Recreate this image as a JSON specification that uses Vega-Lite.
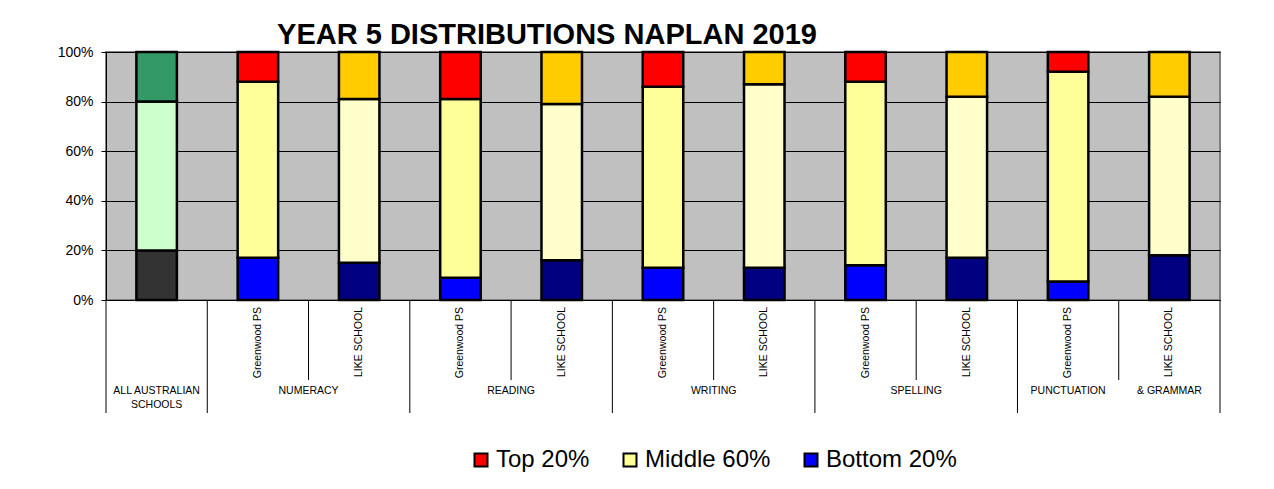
{
  "$schema": "https://vega.github.io/schema/vega-lite/v6.json",
  "background": "white",
  "padding": {"left": 55, "top": 21, "right": 5, "bottom": 5},
  "spacing": 0,
  "bounds": "flush",
  "title": {
    "text": "YEAR 5 DISTRIBUTIONS NAPLAN 2019",
    "font": "Liberation Sans",
    "fontSize": 29,
    "fontWeight": "bold",
    "color": "#000000",
    "anchor": "middle",
    "offset": -6,
    "dx": -91
  },
  "config": {
    "font": "Liberation Sans",
    "concat": {"spacing": 0}
  },
  "datasets": {
    "bars": [
      {"slot": 1, "group": "ALL AUSTRALIAN SCHOOLS", "school": "", "segment": "Bottom", "key": "Bottom A", "order": 1, "value": 20},
      {"slot": 1, "group": "ALL AUSTRALIAN SCHOOLS", "school": "", "segment": "Middle", "key": "Middle A", "order": 2, "value": 60},
      {"slot": 1, "group": "ALL AUSTRALIAN SCHOOLS", "school": "", "segment": "Top", "key": "Top A", "order": 3, "value": 20},
      {"slot": 2, "group": "NUMERACY", "school": "Greenwood PS", "segment": "Bottom", "key": "Bottom 20%", "order": 1, "value": 17},
      {"slot": 2, "group": "NUMERACY", "school": "Greenwood PS", "segment": "Middle", "key": "Middle 60%", "order": 2, "value": 71},
      {"slot": 2, "group": "NUMERACY", "school": "Greenwood PS", "segment": "Top", "key": "Top 20%", "order": 3, "value": 12},
      {"slot": 3, "group": "NUMERACY", "school": "LIKE SCHOOL", "segment": "Bottom", "key": "Bottom L", "order": 1, "value": 15},
      {"slot": 3, "group": "NUMERACY", "school": "LIKE SCHOOL", "segment": "Middle", "key": "Middle L", "order": 2, "value": 66},
      {"slot": 3, "group": "NUMERACY", "school": "LIKE SCHOOL", "segment": "Top", "key": "Top L", "order": 3, "value": 19},
      {"slot": 4, "group": "READING", "school": "Greenwood PS", "segment": "Bottom", "key": "Bottom 20%", "order": 1, "value": 9},
      {"slot": 4, "group": "READING", "school": "Greenwood PS", "segment": "Middle", "key": "Middle 60%", "order": 2, "value": 72},
      {"slot": 4, "group": "READING", "school": "Greenwood PS", "segment": "Top", "key": "Top 20%", "order": 3, "value": 19},
      {"slot": 5, "group": "READING", "school": "LIKE SCHOOL", "segment": "Bottom", "key": "Bottom L", "order": 1, "value": 16},
      {"slot": 5, "group": "READING", "school": "LIKE SCHOOL", "segment": "Middle", "key": "Middle L", "order": 2, "value": 63},
      {"slot": 5, "group": "READING", "school": "LIKE SCHOOL", "segment": "Top", "key": "Top L", "order": 3, "value": 21},
      {"slot": 6, "group": "WRITING", "school": "Greenwood PS", "segment": "Bottom", "key": "Bottom 20%", "order": 1, "value": 13},
      {"slot": 6, "group": "WRITING", "school": "Greenwood PS", "segment": "Middle", "key": "Middle 60%", "order": 2, "value": 73},
      {"slot": 6, "group": "WRITING", "school": "Greenwood PS", "segment": "Top", "key": "Top 20%", "order": 3, "value": 14},
      {"slot": 7, "group": "WRITING", "school": "LIKE SCHOOL", "segment": "Bottom", "key": "Bottom L", "order": 1, "value": 13},
      {"slot": 7, "group": "WRITING", "school": "LIKE SCHOOL", "segment": "Middle", "key": "Middle L", "order": 2, "value": 74},
      {"slot": 7, "group": "WRITING", "school": "LIKE SCHOOL", "segment": "Top", "key": "Top L", "order": 3, "value": 13},
      {"slot": 8, "group": "SPELLING", "school": "Greenwood PS", "segment": "Bottom", "key": "Bottom 20%", "order": 1, "value": 14},
      {"slot": 8, "group": "SPELLING", "school": "Greenwood PS", "segment": "Middle", "key": "Middle 60%", "order": 2, "value": 74},
      {"slot": 8, "group": "SPELLING", "school": "Greenwood PS", "segment": "Top", "key": "Top 20%", "order": 3, "value": 12},
      {"slot": 9, "group": "SPELLING", "school": "LIKE SCHOOL", "segment": "Bottom", "key": "Bottom L", "order": 1, "value": 17},
      {"slot": 9, "group": "SPELLING", "school": "LIKE SCHOOL", "segment": "Middle", "key": "Middle L", "order": 2, "value": 65},
      {"slot": 9, "group": "SPELLING", "school": "LIKE SCHOOL", "segment": "Top", "key": "Top L", "order": 3, "value": 18},
      {"slot": 10, "group": "PUNCTUATION & GRAMMAR", "school": "Greenwood PS", "segment": "Bottom", "key": "Bottom 20%", "order": 1, "value": 7.5},
      {"slot": 10, "group": "PUNCTUATION & GRAMMAR", "school": "Greenwood PS", "segment": "Middle", "key": "Middle 60%", "order": 2, "value": 84.5},
      {"slot": 10, "group": "PUNCTUATION & GRAMMAR", "school": "Greenwood PS", "segment": "Top", "key": "Top 20%", "order": 3, "value": 8},
      {"slot": 11, "group": "PUNCTUATION & GRAMMAR", "school": "LIKE SCHOOL", "segment": "Bottom", "key": "Bottom L", "order": 1, "value": 18},
      {"slot": 11, "group": "PUNCTUATION & GRAMMAR", "school": "LIKE SCHOOL", "segment": "Middle", "key": "Middle L", "order": 2, "value": 64},
      {"slot": 11, "group": "PUNCTUATION & GRAMMAR", "school": "LIKE SCHOOL", "segment": "Top", "key": "Top L", "order": 3, "value": 18}
    ],
    "schools": [
      {"pos": 1.5, "label": "Greenwood PS"},
      {"pos": 2.5, "label": "LIKE SCHOOL"},
      {"pos": 3.5, "label": "Greenwood PS"},
      {"pos": 4.5, "label": "LIKE SCHOOL"},
      {"pos": 5.5, "label": "Greenwood PS"},
      {"pos": 6.5, "label": "LIKE SCHOOL"},
      {"pos": 7.5, "label": "Greenwood PS"},
      {"pos": 8.5, "label": "LIKE SCHOOL"},
      {"pos": 9.5, "label": "Greenwood PS"},
      {"pos": 10.5, "label": "LIKE SCHOOL"}
    ],
    "groups": [
      {"pos": 0.5, "label": "ALL AUSTRALIAN\nSCHOOLS"},
      {"pos": 2, "label": "NUMERACY"},
      {"pos": 4, "label": "READING"},
      {"pos": 6, "label": "WRITING"},
      {"pos": 8, "label": "SPELLING"},
      {"pos": 9.5, "label": "PUNCTUATION"},
      {"pos": 10.5, "label": "& GRAMMAR"}
    ],
    "dividers": [
      {"pos": 0, "kind": "group"},
      {"pos": 1, "kind": "group"},
      {"pos": 2, "kind": "school"},
      {"pos": 3, "kind": "group"},
      {"pos": 4, "kind": "school"},
      {"pos": 5, "kind": "group"},
      {"pos": 6, "kind": "school"},
      {"pos": 7, "kind": "group"},
      {"pos": 8, "kind": "school"},
      {"pos": 9, "kind": "group"},
      {"pos": 10, "kind": "school"},
      {"pos": 11, "kind": "group"}
    ]
  },
  "vconcat": [
    {
      "width": 1114,
      "height": 248,
      "view": {"fill": "#C0C0C0", "stroke": "#808080", "strokeWidth": 2},
      "data": {"name": "bars"},
      "mark": {"type": "bar", "stroke": "#000000", "strokeWidth": 2.5},
      "encoding": {
        "x": {
          "field": "slot",
          "type": "ordinal",
          "sort": "ascending",
          "scale": {"paddingInner": 0.6, "paddingOuter": 0.3},
          "axis": {"labels": false, "ticks": false, "title": null, "domainColor": "#000000", "domainWidth": 1, "minExtent": 0, "maxExtent": 0, "offset": 0}
        },
        "y": {
          "field": "value",
          "type": "quantitative",
          "stack": "zero",
          "scale": {"domain": [0, 100], "nice": false},
          "axis": {
            "title": null,
            "values": [0, 20, 40, 60, 80, 100],
            "labelExpr": "datum.value + '%'",
            "labelFontSize": 14,
            "labelColor": "#000000",
            "labelPadding": 8,
            "tickSize": 5,
            "tickColor": "#000000",
            "domainColor": "#000000",
            "gridColor": "#000000",
            "gridOpacity": 1,
            "gridWidth": 1,
            "minExtent": 50,
            "maxExtent": 50
          }
        },
        "order": {"field": "order", "type": "quantitative"},
        "color": {
          "field": "key",
          "type": "nominal",
          "scale": {
            "domain": ["Top 20%", "Middle 60%", "Bottom 20%", "Top L", "Middle L", "Bottom L", "Top A", "Middle A", "Bottom A"],
            "range": ["#FF0000", "#FFFF99", "#0000FF", "#FFCC00", "#FFFFCC", "#000080", "#339966", "#CCFFCC", "#333333"]
          },
          "legend": {
            "values": ["Top 20%", "Middle 60%", "Bottom 20%"],
            "orient": "none",
            "legendX": 363,
            "legendY": 396,
            "direction": "horizontal",
            "title": null,
            "labelFontSize": 24,
            "labelColor": "#000000",
            "labelFont": "Liberation Sans",
            "labelOffset": 3,
            "symbolType": "square",
            "symbolSize": 169,
            "symbolStrokeColor": "#000000",
            "symbolStrokeWidth": 2,
            "columnPadding": 28
          }
        }
      }
    },
    {
      "width": 1114,
      "height": 113,
      "view": {"stroke": null},
      "layer": [
        {
          "data": {"name": "dividers"},
          "transform": [{"filter": "datum.kind == 'group'"}],
          "mark": {"type": "rule", "color": "#000000", "strokeWidth": 1},
          "encoding": {
            "x": {"field": "pos", "type": "quantitative", "scale": {"domain": [0, 11], "nice": false, "zero": false}, "axis": null},
            "y": {"datum": 0, "type": "quantitative", "scale": {"domain": [0, 113], "reverse": true, "nice": false}, "axis": null},
            "y2": {"datum": 113}
          }
        },
        {
          "data": {"name": "dividers"},
          "transform": [{"filter": "datum.kind == 'school'"}],
          "mark": {"type": "rule", "color": "#000000", "strokeWidth": 1},
          "encoding": {
            "x": {"field": "pos", "type": "quantitative"},
            "y": {"datum": 0, "type": "quantitative"},
            "y2": {"datum": 80}
          }
        },
        {
          "data": {"name": "schools"},
          "mark": {"type": "text", "angle": 270, "align": "right", "baseline": "middle", "fontSize": 10.5, "color": "#000000"},
          "encoding": {
            "x": {"field": "pos", "type": "quantitative"},
            "y": {"datum": 7, "type": "quantitative"},
            "text": {"field": "label"}
          }
        },
        {
          "data": {"name": "groups"},
          "mark": {"type": "text", "align": "center", "baseline": "top", "fontSize": 10.5, "color": "#000000", "lineBreak": "\n", "lineHeight": 14},
          "encoding": {
            "x": {"field": "pos", "type": "quantitative"},
            "y": {"datum": 86, "type": "quantitative"},
            "text": {"field": "label"}
          }
        }
      ]
    }
  ],
  "resolve": {"scale": {"x": "independent", "y": "independent"}}
}
